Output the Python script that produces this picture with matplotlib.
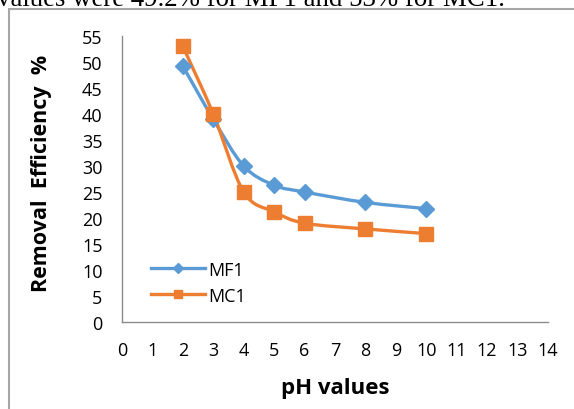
import numpy as np
import matplotlib
matplotlib.use("Agg")
import matplotlib.pyplot as plt
from matplotlib.path import Path
from matplotlib.patches import PathPatch, Rectangle
from matplotlib.lines import Line2D

# ============ DATA ============
ph = [2, 3, 4, 5, 6, 8, 10]
mf1 = [49.2, 39, 30, 26.3, 25, 23, 21.8]
mc1 = [53, 40, 25, 21.2, 19, 17.9, 17]
series_names = ["MF1", "MC1"]
x_ticks = list(range(0, 15))
y_ticks = list(range(0, 60, 5))

BLUE = "#5B9BD5"
ORANGE = "#ED7D31"
GRAY = "#8C8C8C"

plt.rcParams["font.family"] = ["Open Sans", "DejaVu Sans"]


def smooth_path(xs, ys):
    # Excel-like smoothed line: cubic bezier through the points
    pts = np.column_stack([xs, ys]).astype(float)
    verts = [pts[0]]
    codes = [Path.MOVETO]
    n = len(pts)
    for i in range(n - 1):
        p0 = pts[i - 1] if i > 0 else pts[i]
        p1 = pts[i]
        p2 = pts[i + 1]
        p3 = pts[i + 2] if i + 2 < n else pts[i + 1]
        c1 = p1 + (p2 - p0) / 6.0
        c2 = p2 - (p3 - p1) / 6.0
        verts += [c1, c2, p2]
        codes += [Path.CURVE4] * 3
    return Path(verts, codes)


fig = plt.figure(figsize=(5.74, 4.10), dpi=100)
ax = fig.add_axes([122 / 574, 1 - 323 / 410, (548 - 122) / 574, (323 - 37) / 410])

for ys, color, marker, ms in [(mf1, BLUE, "D", 8), (mc1, ORANGE, "s", 10)]:
    ax.add_patch(PathPatch(smooth_path(ph, ys), facecolor="none",
                           edgecolor=color, lw=2.4, zorder=2))
    ax.plot(ph, ys, linestyle="none", marker=marker, markersize=ms,
            color=color, zorder=3)

ax.set_xlim(0, 14)
ax.set_ylim(0, 55)
ax.set_xticks(x_ticks)
ax.set_yticks(y_ticks)
ax.tick_params(length=0, labelsize=13, colors="black")
ax.tick_params(axis="x", pad=14)
ax.tick_params(axis="y", pad=14)
for side in ["top", "right"]:
    ax.spines[side].set_visible(False)
for side in ["left", "bottom"]:
    ax.spines[side].set_color(GRAY)
    ax.spines[side].set_linewidth(1.0)

handles = [Line2D([], [], color=BLUE, lw=2.4, marker="D", markersize=5),
           Line2D([], [], color=ORANGE, lw=2.4, marker="s", markersize=6)]
ax.legend(handles, series_names, loc="lower left",
          bbox_to_anchor=(0.05, 0.035), frameon=False, fontsize=13,
          handlelength=3.0, labelspacing=0.45, handletextpad=0.2,
          borderaxespad=0)

fig.text(335 / 574, 1 - 389 / 410, "pH values", ha="center", va="center",
         fontsize=16, fontweight="bold")
fig.text(42 / 574, 1 - 173 / 410, "Removal  Efficiency  %", ha="center",
         va="center", rotation=90, fontsize=15.5, fontweight="bold")

# chart frame and clipped caption text above it
fig.add_artist(Rectangle((9 / 574, -0.1), 1.2, 1.1 - 10 / 410,
                         transform=fig.transFigure, fill=False,
                         edgecolor="#A6A6A6", lw=1.5))
fig.text(-3 / 574, 1 - 6 / 410, "values were 49.2% for MF1 and 53% for MC1.",
         ha="left", va="baseline", fontsize=19.4,
         family=["Liberation Serif", "DejaVu Serif"])

fig.savefig("out.png", dpi=100)
